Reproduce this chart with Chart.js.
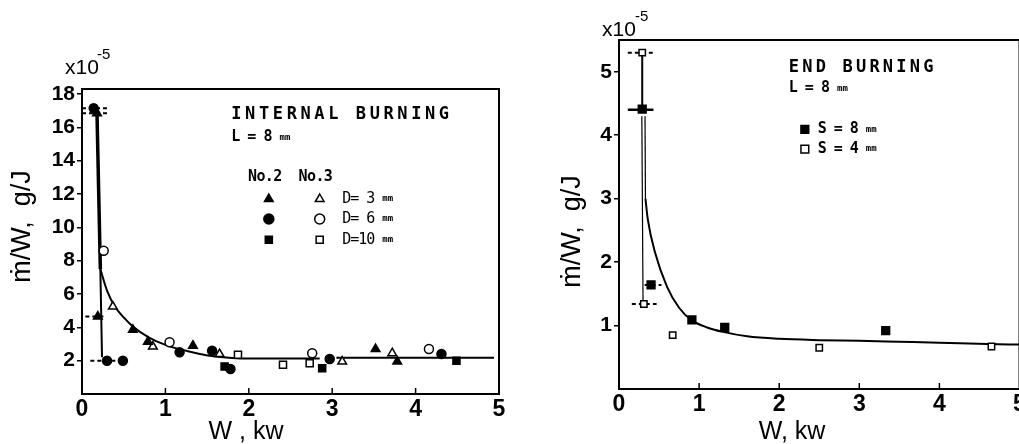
<!DOCTYPE html>
<html>
<head>
<meta charset="utf-8">
<script src="https://cdn.jsdelivr.net/npm/chart.js@4/dist/chart.umd.min.js"></script>
<style>
  html, body { margin: 0; padding: 0; background: #fff; overflow: hidden; width: 1019px; height: 444px; }
  .box { position: absolute; top: 0; height: 444px; }
  #leftBox { left: 0; width: 510px; }
  #rightBox { left: 510px; width: 525px; }
</style>
</head>
<body>
<div class="box" id="leftBox"><canvas id="internalChart"></canvas></div>
<div class="box" id="rightBox"><canvas id="endChart"></canvas></div>
<script>
// ---------- internal burning (left panel) ----------
const internalXTicks = [0, 1, 2, 3, 4, 5];
const internalYTicks = [2, 4, 6, 8, 10, 12, 14, 16, 18];
const no2D3 = [[0.18, 16.85], [0.19, 4.65], [0.61, 3.85], [0.79, 3.14], [1.33, 2.9], [3.52, 2.7], [3.78, 1.95]];
const no3D3 = [[0.37, 5.25], [0.85, 2.85], [1.65, 2.4], [3.12, 1.95], [3.72, 2.45]];
const no2D6 = [[0.14, 17.15], [0.3, 2.0], [0.49, 2.0], [1.17, 2.5], [1.56, 2.6], [1.78, 1.5], [2.97, 2.1], [4.31, 2.4]];
const no3D6 = [[0.26, 8.6], [1.05, 3.1], [2.76, 2.45], [4.16, 2.7]];
const no2D10 = [[1.71, 1.65], [2.88, 1.55], [4.49, 2.0]];
const no3D10 = [[1.87, 2.35], [2.41, 1.75], [2.73, 1.85]];
const internalFit = [[0.22, 7.5], [0.3, 6.2], [0.4, 5.2], [0.5, 4.6], [0.6, 4.1], [0.8, 3.4], [1.0, 2.95],
  [1.2, 2.65], [1.4, 2.42], [1.6, 2.25], [1.8, 2.16], [2.0, 2.13], [2.85, 2.13]];
const internalFitTail = [[3.05, 2.17], [4.94, 2.17]];
const internalDropTop = [[0.18, 16.8], [0.22, 7.5]];
const internalDropLow = [[0.22, 7.5], [0.24, 2.2]];
const internalSpread = [[17.15, 0.0, 0.31], [16.85, 0.0, 0.31], [4.65, 0.04, 0.27], [2.0, 0.1, 0.49]];
const internalLegend = ["D= 3", "D= 6", "D=10"];

// ---------- end burning (right panel) ----------
const endXTicks = [0, 1, 2, 3, 4, 5];
const endYTicks = [1, 2, 3, 4, 5];
const s8 = [[0.29, 4.41], [0.4, 1.64], [0.91, 1.09], [1.32, 0.97], [3.33, 0.92]];
const s4 = [[0.29, 5.3], [0.31, 1.34], [0.67, 0.85], [2.5, 0.65], [4.65, 0.67]];
const endFit = [[0.33, 3.0], [0.36, 2.67], [0.45, 2.15], [0.6, 1.61], [0.75, 1.28], [0.9, 1.09], [1.1, 0.97],
  [1.3, 0.9], [1.6, 0.83], [2.0, 0.79], [2.5, 0.77], [3.0, 0.76], [3.5, 0.745], [4.0, 0.73], [4.6, 0.71], [5.0, 0.7]];
const endDropTop = [[0.29, 5.3], [0.29, 4.4]];
const endDropA = [[0.285, 4.3], [0.3, 1.38]];
const endDropB = [[0.325, 4.3], [0.33, 3.0]];
const endSpread = [[5.3, 0.11, 0.45], [1.64, 0.32, 0.53], [1.34, 0.16, 0.47]];
const endSpreadSolid = [[4.4, 0.11, 0.43]];
const endLegend = ["S = 8", "S = 4"];

const FONT = '"Liberation Sans", "DejaVu Sans", Arial, sans-serif';
const MONO = '"DejaVu Sans Mono", "Liberation Mono", monospace';

const pts = a => a.map(([x, y]) => ({ x, y }));

function marks(data, style, filled, r) {
  return {
    data: pts(data), pointStyle: style, pointRadius: r, pointHoverRadius: r,
    pointBackgroundColor: filled ? "#000" : "#fff", pointBorderColor: "#000",
    pointBorderWidth: 1.5, showLine: false, order: 0
  };
}

function curve(data, width, dash) {
  return {
    data: pts(data), showLine: true, borderColor: "#000", borderWidth: width,
    borderDash: dash || [], pointRadius: 0, pointHoverRadius: 0,
    cubicInterpolationMode: "monotone", fill: false, order: 1
  };
}

function spreads(list, width, dash) {
  return list.map(([y, x0, x1]) => curve([[x0, y], [x1, y]], width, dash));
}

function drawMark(ctx, style, filled, x, y, r) {
  ctx.beginPath();
  if (style === "circle") ctx.arc(x, y, r, 0, Math.PI * 2);
  else if (style === "rect") { const h = r * Math.SQRT1_2; ctx.rect(x - h, y - h, 2 * h, 2 * h); }
  else { ctx.moveTo(x, y - r); ctx.lineTo(x + r * 0.866, y + r / 2); ctx.lineTo(x - r * 0.866, y + r / 2); ctx.closePath(); }
  ctx.fillStyle = filled ? "#000" : "#fff";
  ctx.fill();
  ctx.lineWidth = 1.5;
  ctx.strokeStyle = "#000";
  ctx.stroke();
}

// draw text pieces one after another (different fonts)
function run(ctx, x, y, parts) {
  ctx.textAlign = "left";
  ctx.textBaseline = "middle";
  ctx.fillStyle = "#000";
  parts.forEach(([t, font, sp]) => {
    ctx.font = font;
    ctx.letterSpacing = sp || "0px";
    ctx.fillText(t, x, y);
    x += ctx.measureText(t).width;
  });
  ctx.letterSpacing = "0px";
}

function yTitle(ctx, text, x, y) {
  ctx.save();
  ctx.translate(x, y);
  ctx.rotate(-Math.PI / 2);
  ctx.textAlign = "center";
  ctx.textBaseline = "middle";
  ctx.font = `27px ${FONT}`;
  ctx.fillStyle = "#000";
  ctx.fillText(text, 0, 0);
  ctx.restore();
}

// box around the plot + inward x ticks
const frame = {
  id: "frame",
  afterDraw(chart) {
    const { ctx, chartArea: ca } = chart;
    const xs = chart.scales.x;
    ctx.save();
    ctx.strokeStyle = "#000";
    ctx.lineWidth = 2;
    ctx.strokeRect(ca.left, ca.top, ca.right - ca.left, ca.bottom - ca.top);
    ctx.lineWidth = 1.5;
    xs.ticks.forEach(t => {
      if (t.value <= 0 || t.value >= 5) return;
      const px = xs.getPixelForValue(t.value);
      ctx.beginPath();
      ctx.moveTo(px, ca.bottom);
      ctx.lineTo(px, ca.bottom - 6);
      ctx.stroke();
    });
    ctx.restore();
  }
};

function decor(drawFn) {
  return { id: "decor", afterDraw(chart) { const c = chart.ctx; c.save(); drawFn(chart, c); c.restore(); } };
}

function options(xTicks, yTicks, yMax, yWidth, xHeight, padding) {
  return {
    animation: false,
    responsive: true,
    maintainAspectRatio: false,
    layout: { padding },
    plugins: { legend: { display: false }, tooltip: { enabled: false } },
    scales: {
      x: {
        type: "linear", min: 0, max: 5,
        afterBuildTicks: s => { s.ticks = xTicks.map(v => ({ value: v })); },
        afterFit: s => { s.height = xHeight; },
        grid: { drawOnChartArea: false, drawTicks: false },
        border: { color: "#000", width: 2 },
        ticks: { color: "#000", padding: 2, maxRotation: 0, autoSkip: false, font: { family: FONT, size: 23, weight: "bold" } }
      },
      y: {
        type: "linear", min: 0, max: yMax,
        afterBuildTicks: s => { s.ticks = yTicks.map(v => ({ value: v })); },
        afterFit: s => { s.width = yWidth; },
        grid: { drawOnChartArea: false, drawTicks: true, tickLength: 5, color: "#000", lineWidth: 1.5 },
        border: { color: "#000", width: 2 },
        ticks: { color: "#000", padding: 2, autoSkip: false, font: { family: FONT, size: 21, weight: "bold" } }
      }
    }
  };
}

// -------------------------------
// INTERNAL BURNING
// -------------------------------
const drawInternal = (chart, ctx) => {
  const { x: xs, y: ys } = chart.scales;
  const ca = chart.chartArea;
  const X = v => xs.getPixelForValue(v), Y = v => ys.getPixelForValue(v);

  run(ctx, ca.left - 17, ca.top - 21, [["x10", `21px ${FONT}`]]);
  run(ctx, ca.left + 15, ca.top - 34, [["-5", `15px ${FONT}`]]);
  yTitle(ctx, "ṁ/W,  g/J", ca.left - 59, (ca.top + ca.bottom) / 2 - 15);
  ctx.font = `25px ${FONT}`;
  ctx.textAlign = "center";
  ctx.textBaseline = "middle";
  ctx.fillText("W , kw", ca.left + 164, ca.bottom + 38);

  run(ctx, X(1.79), Y(16.76), [["INTERNAL BURNING", `bold 17px ${MONO}`, "3.6px"]]);
  run(ctx, X(1.79), Y(15.4), [["L = 8 ", `bold 15px ${MONO}`, "-1px"], ["mm", `bold 9px ${MONO}`]]);
  run(ctx, X(1.99), Y(13.0), [["No.2  No.3", `bold 15px ${MONO}`, "-0.6px"]]);
  const styles = ["triangle", "circle", "rect"];
  const rowsY = [11.7, 10.5, 9.25];
  internalLegend.forEach((label, i) => {
    drawMark(ctx, styles[i], true, X(2.24), Y(rowsY[i]), 5);
    drawMark(ctx, styles[i], false, X(2.85), Y(rowsY[i]), 5);
    run(ctx, X(3.12), Y(rowsY[i]), [[label + " ", `15px ${MONO}`, "-1px"], ["mm", `bold 9px ${MONO}`]]);
  });
};

new Chart(document.getElementById("internalChart"), {
  type: "scatter",
  data: {
    datasets: [
      marks(no2D3, "triangle", true, 5),
      marks(no3D3, "triangle", false, 5),
      marks(no2D6, "circle", true, 4.5),
      marks(no3D6, "circle", false, 4.5),
      marks(no2D10, "rect", true, 5),
      marks(no3D10, "rect", false, 5),
      curve(internalFit, 2),
      curve(internalFitTail, 2),
      curve(internalDropTop, 3.5),
      curve(internalDropLow, 2),
      ...spreads(internalSpread, 2, [4, 3])
    ]
  },
  options: options(internalXTicks, internalYTicks, 18.3, 82, 50, { top: 89, right: 11, left: 0, bottom: 0 }),
  plugins: [frame, decor(drawInternal)]
});

// -------------------------------
// END BURNING
// -------------------------------
const drawEnd = (chart, ctx) => {
  const { x: xs, y: ys } = chart.scales;
  const ca = chart.chartArea;
  const X = v => xs.getPixelForValue(v), Y = v => ys.getPixelForValue(v);

  run(ctx, ca.left - 17, ca.top - 10, [["x10", `21px ${FONT}`]]);
  run(ctx, ca.left + 16, ca.top - 23, [["-5", `15px ${FONT}`]]);
  yTitle(ctx, "ṁ/W,  g/J", ca.left - 46, (ca.top + ca.bottom) / 2 + 17);
  ctx.font = `25px ${FONT}`;
  ctx.textAlign = "center";
  ctx.textBaseline = "middle";
  ctx.fillText("W, kw", ca.left + 173, ca.bottom + 43);

  run(ctx, X(2.12), Y(5.07), [["END BURNING", `bold 17px ${MONO}`, "3.2px"]]);
  run(ctx, X(2.12), Y(4.74), [["L = 8 ", `bold 15px ${MONO}`, "-1px"], ["mm", `bold 9px ${MONO}`]]);
  const rowsY = [4.09, 3.78];
  endLegend.forEach((label, i) => {
    drawMark(ctx, "rect", i === 0, X(2.32), Y(rowsY[i]), 5.5);
    run(ctx, X(2.48), Y(rowsY[i]), [[label + " ", `bold 15px ${MONO}`, "-1px"], ["mm", `bold 9px ${MONO}`]]);
  });
};

new Chart(document.getElementById("endChart"), {
  type: "scatter",
  data: {
    datasets: [
      marks(s8, "rect", true, 5.5),
      marks(s4, "rect", false, 4.5),
      curve(endFit, 2),
      curve(endDropTop, 2),
      curve(endDropA, 1.2),
      curve(endDropB, 1.2),
      ...spreads(endSpread, 2, [4, 3]),
      ...spreads(endSpreadSolid, 2.5)
    ]
  },
  options: options(endXTicks, endYTicks, 5.5, 109, 55, { top: 40, right: 15.5, left: 0, bottom: 0 }),
  plugins: [frame, decor(drawEnd)]
});
</script>
</body>
</html>
